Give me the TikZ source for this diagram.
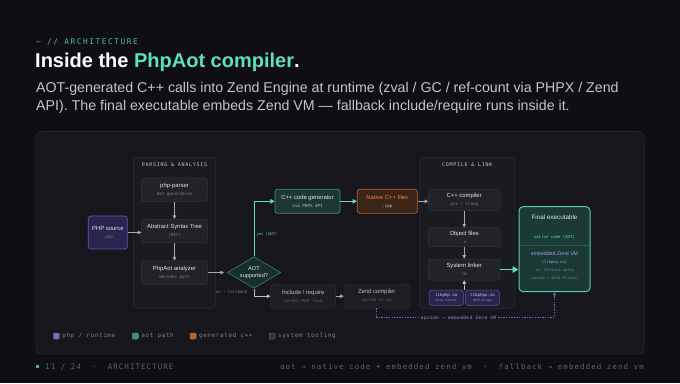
\documentclass[tikz,border=0pt]{standalone}
\usepackage{fontspec}
\setmainfont{Liberation Sans}
\setmonofont{DejaVu Sans Mono}
\newfontfamily\capsmono[LetterSpace=15]{DejaVu Sans Mono}
\newfontfamily\widemono[LetterSpace=20]{DejaVu Sans Mono}
\newfontfamily\footmono[LetterSpace=14]{DejaVu Sans Mono}
\newfontfamily\legmono[LetterSpace=10]{DejaVu Sans Mono}
\usetikzlibrary{positioning,arrows.meta,shapes.geometric,calc}
\definecolor{bg}{HTML}{0E0E13}
\definecolor{panel}{HTML}{16161C}
\definecolor{panelline}{HTML}{26262E}
\definecolor{grpfill}{HTML}{1A1A21}
\definecolor{grpline}{HTML}{2C2C34}
\definecolor{boxfill}{HTML}{222229}
\definecolor{boxline}{HTML}{34343C}
\definecolor{fallfill}{HTML}{1D1D24}
\definecolor{fallline}{HTML}{2B2B33}
\definecolor{ink}{HTML}{E4E4E8}
\definecolor{dimink}{HTML}{BDBDC4}
\definecolor{muted}{HTML}{80808A}
\definecolor{faint}{HTML}{62626B}
\definecolor{subgray}{HTML}{C4C4CA}
\definecolor{flowgray}{HTML}{A8A8B0}
\definecolor{teal}{HTML}{5FE0B6}
\definecolor{tealfill}{HTML}{1C3832}
\definecolor{tealline}{HTML}{3F8F7A}
\definecolor{finalfill}{HTML}{1B3A33}
\definecolor{finalline}{HTML}{5BC9A6}
\definecolor{diamfill}{HTML}{17302B}
\definecolor{diamline}{HTML}{3B7F6B}
\definecolor{orfill}{HTML}{3B2418}
\definecolor{orline}{HTML}{B5622C}
\definecolor{orink}{HTML}{E8843E}
\definecolor{purfill}{HTML}{28264D}
\definecolor{purline}{HTML}{5E58B0}
\definecolor{purink}{HTML}{A29CF5}
\definecolor{purlight}{HTML}{CFCBF7}
\newcommand\subtxt[1]{{\ttfamily\fontsize{4.2}{5}\selectfont\color{muted}#1}}

\begin{document}
\begin{tikzpicture}[x=1pt, y=-1pt,
    box/.style={rounded corners=2.5pt, draw=boxline, fill=boxfill, minimum width=65.6pt, minimum height=23.5pt, font=\fontsize{5.9}{7}\selectfont, text=ink, align=center, inner sep=1pt, line width=0.5pt},
    group/.style={rounded corners=4pt, draw=grpline, fill=grpfill, line width=0.5pt, inner sep=0pt},
    grouplabel/.style={font=\capsmono\fontsize{5}{6}\selectfont, text=subgray, inner sep=0pt},
    decide/.style={diamond, aspect=1.69, draw=diamline, fill=diamfill, inner sep=0pt, minimum width=53.4pt, minimum height=31.6pt, font=\fontsize{5.6}{6.8}\selectfont, text=ink, align=center, line width=0.6pt},
    tiny/.style={font=\ttfamily\fontsize{4}{5}\selectfont, inner sep=0.6pt},
    flow/.style={draw=flowgray, line width=0.7pt, -{Triangle[length=3.6pt, width=3.6pt]}},
    aotflow/.style={draw=teal, line width=0.9pt, -{Triangle[length=4.4pt, width=4.6pt]}},
    vmflow/.style={draw=purline!90!white, line width=0.6pt, dash pattern=on 1.4pt off 1.2pt, -{Triangle[length=3pt, width=3pt]}},
    legsq/.style={rounded corners=1pt, minimum size=6pt, inner sep=0pt, line width=0.5pt},
    legtext/.style={font=\legmono\fontsize{6}{7}\selectfont, text=muted, inner sep=0pt, right=2.6pt},
    fin/.style={font=\ttfamily\fontsize{3.6}{4.5}\selectfont, inner sep=0pt}
  ]
  \fill[bg] (0,0) rectangle (680,383);
  \useasboundingbox (0,0) rectangle (680,383);

  % heading
  \node[anchor=base west, inner sep=0, text=teal!85!black, font=\widemono\fontsize{7.8}{9}\selectfont] (kicker) at (36,44) {— // ARCHITECTURE};
  \node[anchor=base west, inner sep=0, text=white, font=\bfseries\fontsize{20}{24}\selectfont] (title) at (35,67) {Inside the \textcolor{teal}{PhpAot compiler}.};
  \node[anchor=base west, inner sep=0, text=subgray, font=\fontsize{14.2}{18}\selectfont] (sub1) at (36,92) {AOT-generated C++ calls into Zend Engine at runtime (zval / GC / ref-count via PHPX / Zend};
  \node[anchor=base west, inner sep=0, text=subgray, font=\fontsize{14.2}{18}\selectfont] (sub2) at (36,110) {API). The final executable embeds Zend VM — fallback include/require runs inside it.};

  \filldraw[fill=panel, draw=panelline, line width=0.6pt, rounded corners=6pt] (36,131.5) rectangle (644,354);

  % groups
  \node[group, minimum width=82.4pt, minimum height=151pt] (parsegrp) at (174.5,232.8) {};
  \node[grouplabel] (parselbl) at ($(parsegrp.north)+(0,7.8)$) {PARSING \& ANALYSIS};
  \node[group, minimum width=95.7pt, minimum height=151pt] (linkgrp) at (467.2,232.8) {};
  \node[grouplabel] (linklbl) at ($(linkgrp.north)+(0,8)$) {COMPILE \& LINK};

  % parsing
  \node[box, fill=purfill, draw=purline, minimum width=39pt, minimum height=33pt, line width=0.7pt] (phpsrc) at (107.8,232.5) {PHP source\\[1pt]\subtxt{.php}};
  \node[box] (parser) at (174.5,189.5) {php-parser\\[1pt]\subtxt{AST generation}};
  \node[box] (ast) at (174.5,231) {Abstract Syntax Tree\\[1pt]\subtxt{(AST)}};
  \node[box] (analyzer) at (174.5,272.5) {PhpAot analyzer\\[1pt]\subtxt{decides path}};
  \node[decide] (aotq) at (254,272.5) {AOT\\supported?};

  % aot path
  \node[box, fill=tealfill, draw=tealline, minimum width=65pt, minimum height=24pt, line width=0.7pt] (cgen) at (307.5,201.3) {C++ code generator\\[1pt]{\ttfamily\fontsize{4.2}{5}\selectfont\color{dimink}via PHPX API}};
  \node[box, fill=orfill, draw=orline, minimum width=60pt, minimum height=24pt, text=orink, line width=0.7pt] (cppfiles) at (387.3,201.3) {Native C++ files\\[1pt]{\ttfamily\fontsize{4.2}{5}\selectfont\color{dimink}.cpp}};

  % compile & link
  \node[box, minimum width=71.7pt, minimum height=21.4pt] (cxx) at (464.2,200) {C++ compiler\\[1pt]\subtxt{g++ / clang}};
  \node[box, minimum width=71.7pt, minimum height=19pt] (objs) at (464.2,237.2) {Object files\\[1pt]\subtxt{.o}};
  \node[box, minimum width=71.7pt, minimum height=21pt] (linker) at (464.2,269.5) {System linker\\[1pt]\subtxt{ld}};
  \node[box, fill=purfill, draw=purline, minimum width=34.3pt, minimum height=15.3pt, font=\ttfamily\fontsize{4.1}{4.8}\selectfont, text=purlight] (libphp) at (446.2,297.7) {libphp.so\\[0.3pt]{\fontsize{2.9}{3.5}\selectfont\color{purink!80!gray}Zend runtime}};
  \node[box, fill=purfill, draw=purline, minimum width=33.6pt, minimum height=15.3pt, font=\ttfamily\fontsize{4.1}{4.8}\selectfont, text=purlight] (libphpx) at (482.5,297.7) {libphpx.so\\[0.3pt]{\fontsize{2.9}{3.5}\selectfont\color{purink!80!gray}PHPX bridge}};
  \coordinate (libtop) at ($(libphp.north east)!0.5!(libphpx.north west)$);

  % final executable
  \node[rounded corners=4pt, draw=finalline, fill=finalfill, line width=1pt, minimum width=71pt, minimum height=85pt, inner sep=0pt] (final) at (554.5,249.2) {};
  \node[inner sep=0pt, text=ink, font=\fontsize{6.3}{7.5}\selectfont] (fintitle) at ($(final.north)+(0,11)$) {Final executable};
  \node[fin, text=teal, font=\ttfamily\fontsize{4}{5}\selectfont] (finaot) at ($(final.north)+(0,30.6)$) {native code (AOT)};
  \draw[tealline!70!finalfill, line width=0.4pt, dash pattern=on 1pt off 1pt] ($(final.west)+(1,-4.5)$) -- ($(final.east)+(-1,-4.5)$);
  \node[inner sep=0pt, text=purink, font=\fontsize{5.2}{6}\selectfont] (finvm) at ($(final.north)+(0,47)$) {embedded Zend VM};
  \node[fin, text=purink, font=\ttfamily\fontsize{3.8}{4.5}\selectfont] (finlib) at ($(final.north)+(0,56)$) {(libphp.so)};
  \node[fin, text=muted] (finfb) at ($(final.north)+(0,64.6)$) {for fallback paths};
  \node[fin, text=muted] (finop) at ($(final.north)+(0,72.3)$) {opcode → Zend VM exec};

  % fallback
  \node[box, fill=fallfill, draw=fallline, minimum width=65pt, minimum height=24pt, text=dimink] (incl) at (303.2,296.2) {Include / require\\[1pt]{\ttfamily\fontsize{4.2}{5}\selectfont\color{faint}normal PHP load}};
  \node[box, fill=fallfill, draw=fallline, minimum width=65.3pt, minimum height=24pt, text=dimink] (zendc) at (376.7,296.2) {Zend compiler\\[1pt]{\ttfamily\fontsize{4.2}{5}\selectfont\color{faint}opcode array}};

  % connectors
  \draw[flow] (phpsrc.east) -- (ast.west |- phpsrc.east);
  \draw[flow] (parser) -- (ast);
  \draw[flow] (ast) -- (analyzer);
  \draw[flow, shorten >=3pt] (analyzer) -- (aotq);
  \draw[aotflow] (aotq.north) |- node[tiny, pos=0.2, right=1.5pt, text=teal!85!gray, font=\ttfamily\fontsize{3.8}{4.5}\selectfont] {yes (AOT)} (cgen.west);
  \draw[aotflow] (cgen) -- (cppfiles);
  \draw[flow] (cppfiles.east) -- (cxx.west |- cppfiles.east);
  \draw[flow] (cxx) -- (objs);
  \draw[flow] (objs) -- (linker);
  \draw[flow, draw=purlight!80!gray] (libtop) -- (linker.south);
  \draw[draw=teal, line width=1.6pt, -{Triangle[length=6pt, width=6.5pt]}] (linker.east) -- (final.west |- linker.east);
  \draw[flow, draw=dimink] (aotq.south) |- (incl.west);
  \node[tiny, text=muted, anchor=east] (nolbl) at (248,291.7) {no · fallback};
  \draw[flow] (incl) -- (zendc);
  \draw[vmflow] (zendc.south) -- ++(0,8.5) -| node[pos=0.23, yshift=-1.8pt, fill=panel, inner sep=0.8pt, text=purink!85!gray, font=\legmono\fontsize{4.4}{5}\selectfont] {opcode → embedded Zend VM} (final.south);

  % legend
  \node[legsq, fill=purline!85!white, draw=purline] (legphp) at (56.3,336) {};
  \node[legtext, right=2.6pt of legphp] (legphptxt) {php / runtime};
  \node[legsq, fill=tealline, draw=teal!70!black] (legaot) at (135.3,336) {};
  \node[legtext, right=2.6pt of legaot] (legaottxt) {aot path};
  \node[legsq, fill=orline, draw=orink!80!black] (legcpp) at (193,336) {};
  \node[legtext, right=2.6pt of legcpp] (legcpptxt) {generated c++};
  \node[legsq, fill=boxline, draw=muted!70!black] (legsys) at (272,336) {};
  \node[legtext, right=2.6pt of legsys] (legsystxt) {system tooling};

  % footer
  \node[fill=teal!80!black, minimum size=2.4pt, inner sep=0pt] (pgdot) at (37.6,366.3) {};
  \node[anchor=base west, inner sep=0, text=faint, font=\footmono\fontsize{7.5}{9}\selectfont] (pgnum) at (45,369) {11 / 24\ \ ·\ \ ARCHITECTURE};
  \node[anchor=base east, inner sep=0, text=faint, font=\footmono\fontsize{7.5}{9}\selectfont] (pgnote) at (644,369) {aot → native code + embedded zend vm\ \ ·\ \ fallback → embedded zend vm};
\end{tikzpicture}
\end{document}
